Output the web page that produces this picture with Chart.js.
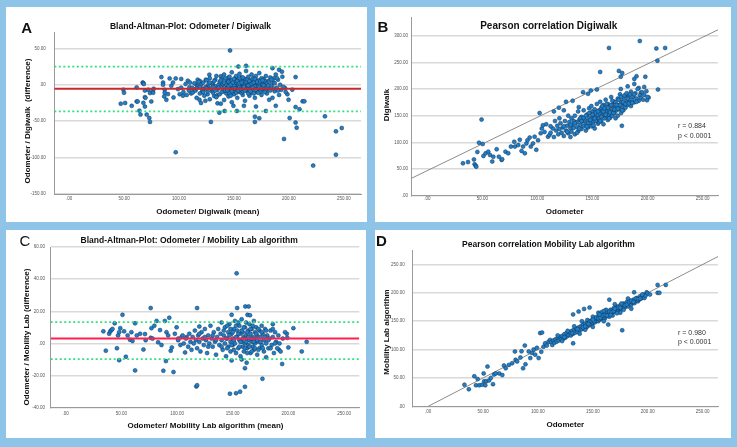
<!DOCTYPE html>
<html>
<head>
<meta charset="utf-8">
<script src="https://cdn.jsdelivr.net/npm/chart.js@4.4.1/dist/chart.umd.min.js"></script>
<style>
  html, body { margin: 0; padding: 0; }
  body { width: 737px; height: 447px; background: #8ec4e8; position: relative; overflow: hidden; }
  .panel { position: absolute; background: #fff; }
  .panel canvas { position: absolute; left: 0; top: 0; }
</style>
</head>
<body>
<div class="panel" style="left:6px;top:7px;width:361px;height:215px"><canvas id="chartA" width="361" height="215"></canvas></div>
<div class="panel" style="left:375px;top:7px;width:356px;height:215px"><canvas id="chartB" width="356" height="215"></canvas></div>
<div class="panel" style="left:6px;top:230px;width:360px;height:208px"><canvas id="chartC" width="360" height="208"></canvas></div>
<div class="panel" style="left:375px;top:230px;width:356px;height:208px"><canvas id="chartD" width="356" height="208"></canvas></div>

<script>
// ---- data ----
const xTicks = [0, 50, 100, 150, 200, 250];
const yTicksA = [-150, -100, -50, 0, 50];
const yTicksB = [0, 50, 100, 150, 200, 250, 300];
const yTicksC = [-40, -20, 0, 20, 40, 60];
const yTicksD = [0, 50, 100, 150, 200, 250];

// A: Bland-Altman Odometer / Digiwalk  [mean, difference]
const digiwalkBA = [
  [47,-26],[49.4,-6.8],[50,-11],[51,-25],[57,-29],[61.5,-3.7],[61.5,-22.9],[62.4,-23],[64,-35.6],[65,-41],[67,3],[67.5,2.3],[68,1],[67.6,-24.8],
  [69,-8],[69,-17],[69,-30],[69.5,-18],[70.6,-41],[72,-6.8],[73,-45.7],[73.6,-51],[73.6,-11.4],[74.8,-23],[76,-9],[76.5,-11],[77,-5.5],
  [84,10.5],[85.5,3],[85.5,0],[87,-7],[87,-11],[86.5,-16],[88.5,-20.6],[90,-12.8],[91.5,8.7],[93,-1.4],[94.5,3],[95,-17.4],[97,-92.7],
  [97,8.7],[99,-6],[100.6,-13],[102,8],[102,-4],[103.6,-15],[104,-10],[106,1],[107,-14],[108,5.6],[109,-8],[109.5,-3.5],[110,3],[111,-12],
  [112.5,-10.5],[113,-6],[115.5,1],[116,-18],[117,7],[118.6,-20.6],[119,5],[120,-25],[121,-10],[122,-6.8],[124,-22],[124.4,7],[126,-13],
  [126,-2],[127.6,13.8],[129,-51],[130,-9],[130.6,1],[132,-15.6],[133,7],[135,-25.5],[135,-14],[136.7,-38.3],[138,11.6],[138,-26],[139,-1],
  [141.5,-36],[146.4,47],[149.5,-29],[152.6,-36],[154,25],[159,-29],[161,26],[169,-43.8],[169,-51],[170,-30],[173,-46],[179,-36],
  [182,-20.6],[185,22.8],[186.4,9],[188,-29],[191,20.5],[193.6,18],[195.5,-74.4],[196.4,-4.6],[198.6,-13],[199.6,-20.6],[200.6,-45.7],
  [203,-6.8],[206,10.5],[206,-30.6],[206,-52],[207,-59],[209.6,-33.5],[212.4,-22.8],[214,-22.8],[222,-111],[232.7,-43.4],[242.7,-64],
  [242.7,-96],[248,-59.4],
  [112,-4],[114,2],[115,-8],[117,-2],[118,4],[119,-12],[120,0],[121,-6],[122,3],[123,-15],[124,-3],[125,6],[126,-9],[127,1],[128,-20],
  [128,9],[129,-5],[130,2],[131,-11],[132,5],[133,-2],[134,-17],[134,12],[135,-7],[136,0],[137,4],[137,-13],[138,-3],[139,8],[140,-9],
  [140,1],[141,-21],[141,14],[142,-5],[143,3],[143,-12],[144,7],[144,-1],[145,-16],[145,10],[146,-6],[146,2],[147,-10],[147,5],[148,-3],
  [148,-24],[148,17],[149,0],[149,-8],[150,4],[150,-13],[151,9],[151,-2],[152,-6],[152,12],[153,1],[153,-18],[154,-4],[154,6],[155,-10],
  [155,15],[156,-1],[156,3],[157,-7],[157,10],[158,-14],[158,0],[159,5],[159,-5],[160,-22],[160,8],[161,-2],[161,19],[162,2],[162,-9],
  [163,-5],[163,11],[164,0],[164,-15],[165,6],[165,-3],[166,-11],[166,14],[167,2],[167,-7],[168,-1],[168,9],[169,-18],[169,4],[170,-4],
  [170,12],[171,0],[171,-10],[172,6],[173,-6],[173,16],[174,-2],[175,3],[175,-14],[176,-8],[177,8],[178,-3],[179,1],[180,-12],[181,5],
  [182,-6],[183,10],[184,-1],[185,-18],[186,3],[187,-9],[188,14],[189,-4],[190,7],[191,-14],[192,0],[193,-7],[194,11],[195,-3],[197,-10],
  [142,-8],[143,0],[144,-4],[145,4],[146,-12],[147,-1],[148,6],[149,-5],[150,-1],[151,-9],[152,3],[153,-7],[154,0],[155,-3],[156,7],
  [157,-11],[158,4],[159,-1],[160,1],[161,-6],[162,-1],[163,4],[164,-7],[165,1],[166,-4],[167,8],[168,-12],[169,-2],[170,5],[171,-7],
  [172,-2],[173,2],[174,-9],[175,9],[176,0],[177,-5],[178,5],[179,-8],[180,2],[158,-9],[151,6],[147,-15],[163,-12],[155,9],
  [136,-4],[138,6],[139,-10],[141,3],[142,9],[144,-7],[145,-2],[146,11],[147,0],[148,-9],[149,3],[150,8],[151,-5],[152,-11],[153,5],
  [154,-8],[155,2],[156,-6],[157,3],[158,10],[159,-3],[160,-8],[161,4],[162,7],[163,-1],[164,5],[165,-9],[166,1],[167,-4],[168,3],
  [169,8],[170,-7],[171,4],[172,-11],[173,-3],[174,5],[175,-5],[176,6],[177,-1],[178,-10],[179,12],[180,-4],[181,-1],[182,4],[183,-8],
  [184,7],[186,-5],[187,2],[189,9],[190,-8],[131,-3],[133,-8],[128,3],[125,-5],[122,-10],[119,-3],[116,-5]
];
const meanDiffA = -5.5;
const loaA = [25, -36.5];

// B: Pearson correlation Digiwalk  [odometer, digiwalk]
const digiwalkCorr = [
  [32.4,60.7],[37,63],[42.4,68],[43,59],[44,56],[44.5,54.5],[45.5,82],[47,99.4],[49.3,142.7],[50.3,96.9],[51,74.5],[53,79.5],[55.4,82.6],
  [57,76.4],[59,64],[60,73],[63,87],[65,73],[67.5,67],[68,68.5],[71,82.6],[73.5,79.5],[76,92],[79,101],[79.6,92],[82.6,95],[84,105],
  [85.6,84],[87,92],[88.6,79.5],[90,98],[91,104],[93,109],[94,92],[96,98],[97.5,110.6],[99,86],[100.6,104],[102,155],[103,117],[104,126],
  [105,132],[106.5,119.5],[108,134],[109.6,110.6],[111,113.7],
  [157,232],[165,277],[193,290],[208,276],[216,277],[209,253],[209.5,199],[174,234],[177,230],[175.7,223],[188,219],[190,224],[198,223],
  [197,204],[199,196],[201,184],[199.5,179],[176.7,131],[141.5,194],[148.5,197],[146,191],[154,199],[175.7,200],[188,209.5],[192,202],
  [194,193],[182,205],[126,176],[132,178],[137.6,166],[115,158],[119.5,165],
  [112,118],[114,126],[115,110],[117,122],[118,131],[119,115],[120,125],[121,136],[122,118],[123,128],[124,112],[125,140],[126,122],
  [127,131],[128,117],[129,138],[130,126],[131,145],[131,120],[132,133],[133,127],[134,115],[134,150],[135,137],[136,129],[137,121],
  [137,158],[138,142],[139,133],[140,125],[140,148],[141,139],[142,130],[142,160],[143,143],[144,135],[144,122],[145,152],[146,140],
  [146,128],[147,164],[147,146],[148,136],[148,155],[149,130],[149,168],[150,145],[150,158],[151,139],[151,150],[152,126],[152,162],
  [153,147],[153,156],[154,141],[154,172],[155,151],[155,135],[156,160],[156,145],[157,154],[157,176],[158,140],[158,165],[159,150],
  [159,158],[160,134],[160,170],[161,155],[161,145],[162,163],[162,180],[163,150],[163,158],[164,142],[164,172],[165,160],[165,152],
  [166,167],[166,146],[167,185],[167,158],[168,150],[168,170],[169,163],[170,155],[170,176],[171,145],[171,166],[172,160],[173,182],
  [173,150],[174,170],[175,162],[175,190],[176,155],[176,176],[177,168],[178,183],[178,160],[179,173],[180,165],[180,188],[181,178],
  [182,170],[183,185],[184,176],[185,195],[185,168],[186,180],[187,186],[188,175],[189,192],[190,182],[191,200],[192,178],[193,188],
  [194,183],[195,194],[196,180],[197,189],[200,185],
  [112,130],[116,140],[120,145],[124,160],[128,150],[130,110],[133,140],[136,118],[139,145],
  [140,140],[142,146],[144,150],[146,136],[148,142],[150,152],[151,132],[153,140],[155,158],[156,138],[158,148],[159,168],[160,158],
  [161,164],[162,152],[163,172],[164,165],[165,145],[166,156],[167,170],[168,178],[169,155],[170,162],[171,175],[172,170],[173,163],
  [174,180],[175,170],[176,185],[177,160],[178,175],[179,188],[180,172],[181,192],[182,182],[183,173],[184,190],[186,174],[188,190],
  [190,176],[145,130],[147,155],[152,145],[157,140],[136,138],[138,126],[134,136],[130,133],[127,120],[124,130]
];
const refLineB = { intercept: 47, slope: 1.0 };

// C: Bland-Altman Odometer / Mobility Lab  [mean, difference]
const mobilityBA = [
  [33.8,7.5],[36,-4.5],[39,6],[40,7.5],[41,8.3],[42,9],[44,12.5],[46,-3],[47,5],[48,-10.4],[48,7],[49,9.5],[51,17.8],[52.4,7.5],[54,-8.3],
  [55.6,5],[57.7,2.3],[59,7],[60,1.5],[62.3,12.5],[62.3,-16.8],[63.8,5],[66.8,6],[69.8,-3.8],[71.2,5.8],[71.8,2],[76.3,22],[76.3,3.5],
  [77,9.5],[78,3],[79.6,11],[81.6,14],[83,0.7],[84.7,8.3],[86,-1],[87.7,-17],[89,14],[90,-11],[90.5,7],[92,5],[93,16],[94.3,-4.6],
  [95.3,-2.5],[96.8,-17.8],[98,6],[99.6,10],[101,3],[104,4],[107.2,-5.6],[108.6,4],
  [118,22],[117.3,-26.8],[118,-26],[120,10.5],[149,17.8],[154,22],[153.5,43.6],[161.3,23],[164.3,23],[163.3,17.8],[165.5,17.5],
  [147.5,-31.3],[153,-31],[156.6,-30],[161,-27],[161,-15.4],[162.5,-12],[158,-10],[149,-10.6],[176.7,-22],[180,-8.6],[194.4,-12.8],
  [204.5,9.5],[200,-2.5],[212,-5],[216.4,1],[186,12],[191.4,-3.8],[198.6,6],[199,3.5],
  [101,2],[103,-1],[105,5],[106,0],[108,3],[110,-2],[111,6],[112,1],[113,-4],[114,4],[115,0],[116,8],[117,2],[118,-3],[119,5],[120,1],
  [121,-5],[122,7],[123,3],[124,-1],[125,9],[126,2],[127,-6],[128,5],[129,0],[130,11],[131,3],[132,-2],[133,7],[134,1],[135,-7],[136,4],
  [137,9],[138,-1],[139,6],[140,2],[140,13],[141,-4],[142,5],[143,0],[143,10],[144,-8],[145,3],[146,7],[146,-2],[147,12],[148,1],
  [148,-5],[149,6],[150,3],[150,-1],[151,9],[152,0],[152,14],[153,-6],[154,4],[154,8],[155,-3],[156,2],[156,11],[157,6],[157,-8],
  [158,1],[158,15],[159,-2],[159,7],[160,4],[160,-5],[161,10],[161,0],[162,5],[162,13],[163,-3],[163,3],[164,8],[164,-1],[165,2],
  [165,12],[166,-6],[166,6],[167,1],[167,9],[168,-2],[168,4],[169,14],[169,-4],[170,7],[170,0],[171,3],[171,10],[172,-7],[172,5],
  [173,1],[174,8],[174,-3],[175,4],[176,-1],[176,11],[177,6],[178,2],[178,-5],[179,9],[180,0],[181,5],[182,-3],[183,3],[184,8],
  [185,-1],[186,4],[187,-6],[188,7],[189,1],[190,-3],[191,5],[192,0],[193,-5],[195,3],[197,7],
  [140,-2],[142,8],[144,3],[145,-3],[147,5],[148,9],[149,-1],[150,7],[151,2],[153,4],[153,11],[155,6],[156,-2],[157,1],[158,8],
  [159,3],[160,10],[161,-3],[162,1],[163,7],[164,4],[165,-2],[166,9],[167,3],[168,11],[169,1],[170,-3],[171,6],[172,2],[173,-4],
  [173,9],[175,1],[176,7],[177,-3],[179,4],[180,8],[182,2],[184,-3],[186,9],[188,0],[145,11],[151,-4],[155,13],[163,-6],[167,-5],
  [135,2],[132,5],[128,-2],[125,4],[120,6]
];
const meanDiffC = 3.1;
const loaC = [13.3, -9.8];

// D: Pearson correlation Mobility Lab  [odometer, mobility lab]
const mobilityCorr = [
  [33,38],[37,30],[42,53],[43.5,37],[45,48],[46.5,37],[49,38],[50.5,58],[51,44],[52,37],[53,44],[54,70],[55.4,45.6],[57,50],[59,39],
  [60,56],[61.6,58],[64.7,58],[67.5,55],[69,72],[70.6,67],[73.5,73],[76.5,76],[79,96.6],[79.6,82],[81,79],[84,86],[85,97],[86.4,67],
  [88,107],[88.6,74],[91.6,96.6],[93,85],[94.6,94],[96,100],[97.5,91],[99,103],[100.6,85],[102,129],[103.7,130],[103,96],[105,105],
  [106.5,111],[108,107],[109.6,114],[111,117],
  [132,162],[137,167],[142,171.6],[147,174],[132,111],[165,188],[176.7,134],[164,144],[209,214],[216.4,214],[209,200],[210.6,200],
  [187.6,201],[199,201],
  [112,113],[113,108],[114,116],[115,112],[116,118],[117,114],[118,120],[119,116],[120,122],[121,118],[122,124],[123,119],[124,127],
  [125,121],[126,129],[127,124],[128,126],[129,131],[130,125],[131,133],[132,128],[133,135],[134,130],[135,137],[136,131],[137,139],
  [138,134],[139,141],[140,136],[141,144],[142,138],[143,146],[144,139],[145,141],[146,149],[147,143],[148,151],[149,144],[150,147],
  [151,155],[152,148],[153,151],[154,158],[155,150],[156,153],[157,160],[158,154],[159,157],[160,163],[161,155],[162,159],[163,166],
  [164,160],[165,163],[166,170],[167,162],[168,166],[169,173],[170,167],[171,170],[172,176],[173,168],[174,172],[175,178],[176,171],
  [177,175],[178,181],[179,174],[180,178],[181,184],[182,176],[183,181],[184,186],[185,179],[186,183],[187,188],[188,182],[189,186],
  [190,191],[191,185],[192,188],[193,194],[194,190],[195,193],[196,197],[197,191],[198,195],[200,199],[202,197],
  [140,150],[145,152],[150,158],[155,165],[160,150],[165,158],[170,180],[175,165],[150,140],[143,135],[158,166],[162,170],[168,160],
  [172,164],[178,170],[182,190],[185,172],[138,128],[133,141],[127,133],[122,115],[118,125],
  [141,139],[143,141],[145,146],[147,149],[149,150],[151,150],[153,156],[155,155],[157,156],[159,160],[161,161],[163,160],[165,167],
  [167,166],[169,168],[171,173],[173,174],[175,174],[177,179],[179,178],[181,180],[183,184],[185,186],[187,184],[189,190],[191,189],
  [193,190],[195,197],[160,168],[170,172],[150,153],[146,145],[156,162],[176,181],[166,161],[136,136],[131,129],[124,122]
];
const refLineD = { intercept: 0, slope: 1.0 };

// ---- styling ----
const FONT = '"Liberation Sans", Arial, Helvetica, sans-serif';
const DOT_FILL = '#1f7fca';
const DOT_EDGE = '#173550';
const GREEN = '#2fe07e';
const AXIS = '#9a9a9a';
const GRID = '#d9d9d9';

// draws panel letters, titles, axis titles and stats at fixed spots
const panelText = {
  id: 'panelText',
  afterDraw(chart, args, opts) {
    const ctx = chart.ctx;
    (opts.items || []).forEach(it => {
      ctx.save();
      ctx.font = it.font;
      ctx.fillStyle = it.color || '#111';
      ctx.textAlign = it.align || 'center';
      ctx.textBaseline = 'middle';
      ctx.translate(it.x, it.y);
      if (it.rotate) ctx.rotate(it.rotate);
      ctx.fillText(it.text, 0, 0);
      ctx.restore();
    });
  }
};

function fmt(v) {
  return v === 0 ? '.00' : v.toFixed(2);
}

function dots(points, order) {
  return {
    data: points.map(p => ({ x: p[0], y: p[1] })),
    showLine: false,
    pointRadius: 2,
    pointBackgroundColor: DOT_FILL,
    pointBorderColor: DOT_EDGE,
    pointBorderWidth: 0.5,
    order: order
  };
}

function hline(x0, x1, y, color, width, dash, order) {
  return {
    data: [{ x: x0, y: y }, { x: x1, y: y }],
    showLine: true,
    pointRadius: 0,
    borderColor: color,
    borderWidth: width,
    borderDash: dash || [],
    fill: false,
    order: order
  };
}

function fitLine(x0, x1, line, order) {
  return {
    data: [{ x: x0, y: line.intercept + line.slope * x0 }, { x: x1, y: line.intercept + line.slope * x1 }],
    showLine: true,
    pointRadius: 0,
    borderColor: '#8c8c8c',
    borderWidth: 1,
    fill: false,
    order: order
  };
}

function buildPanel(id, p) {
  const ctx = document.getElementById(id).getContext('2d');
  return new Chart(ctx, {
    type: 'scatter',
    data: { datasets: p.datasets },
    plugins: [panelText],
    options: {
      responsive: false,
      animation: false,
      devicePixelRatio: 1,
      layout: { padding: { left: 0, top: p.top, right: p.right, bottom: 0 } },
      plugins: {
        legend: { display: false },
        tooltip: { enabled: false },
        panelText: { items: p.texts }
      },
      scales: {
        x: {
          type: 'linear',
          min: p.xRange[0],
          max: p.xRange[1],
          afterBuildTicks: s => { s.ticks = xTicks.map(v => ({ value: v })); },
          afterFit: s => { s.height = p.xHeight; },
          grid: { display: false, drawTicks: false },
          border: { display: true, color: AXIS, width: 1 },
          ticks: { font: { size: 4.5, family: FONT }, color: '#555', padding: p.xPad, autoSkip: false, maxRotation: 0, callback: fmt }
        },
        y: {
          type: 'linear',
          min: p.yRange[0],
          max: p.yRange[1],
          afterBuildTicks: s => { s.ticks = p.yTicks.map(v => ({ value: v })); },
          afterFit: s => { s.width = p.yWidth; },
          grid: { display: true, color: GRID, lineWidth: 1.5, drawTicks: false },
          border: { display: true, color: AXIS, width: 1 },
          ticks: { font: { size: 4.5, family: FONT }, color: '#555', padding: p.yPad, autoSkip: false, callback: fmt }
        }
      }
    }
  });
}

const bold = s => 'bold ' + s + 'px ' + FONT;
const UP = -Math.PI / 2;

// A
const xRangeA = [-13.4, 265.5];
buildPanel('chartA', {
  xRange: xRangeA, yRange: [-150, 72], yTicks: yTicksA,
  top: 25.3, right: 6, yWidth: 48.3, xHeight: 28, xPad: 2.3, yPad: 8.5,
  datasets: [
    dots(digiwalkBA, 1),
    hline(xRangeA[0], xRangeA[1], meanDiffA, '#c9282d', 2, null, 0),
    hline(xRangeA[0], xRangeA[1], loaA[0], GREEN, 1.8, [2, 2.5], 0),
    hline(xRangeA[0], xRangeA[1], loaA[1], GREEN, 1.8, [2, 2.5], 0)
  ],
  texts: [
    { text: 'A', x: 20.7, y: 22, font: bold(15) },
    { text: 'Bland-Altman-Plot: Odometer / Digiwalk', x: 184.5, y: 20, font: bold(8.5) },
    { text: 'Odometer / Digiwalk  (difference)', x: 21.3, y: 114, rotate: UP, font: bold(8) },
    { text: 'Odometer/ Digiwalk (mean)', x: 201.8, y: 205, font: bold(8) }
  ]
});

// B
const xRangeB = [-14.5, 264];
buildPanel('chartB', {
  xRange: xRangeB, yRange: [0, 335], yTicks: yTicksB,
  top: 10, right: 13, yWidth: 36.3, xHeight: 26.3, xPad: 0.8, yPad: 3.3,
  datasets: [
    dots(digiwalkCorr, 0),
    fitLine(xRangeB[0], xRangeB[1], refLineB, 1)
  ],
  texts: [
    { text: 'B', x: 8, y: 21.3, font: bold(15) },
    { text: 'Pearson correlation Digiwalk', x: 173.8, y: 19, font: bold(10) },
    { text: 'Digiwalk', x: 12, y: 98, rotate: UP, font: bold(8) },
    { text: 'Odometer', x: 189.7, y: 205, font: bold(8) },
    { text: 'r = 0.884', x: 303, y: 119, align: 'left', color: '#333', font: '7px ' + FONT },
    { text: 'p < 0.0001', x: 303, y: 128.7, align: 'left', color: '#333', font: '7px ' + FONT }
  ]
});

// C
const xRangeC = [-13.5, 263.7];
buildPanel('chartC', {
  xRange: xRangeC, yRange: [-40, 60], yTicks: yTicksC,
  top: 17, right: 6.7, yWidth: 44.7, xHeight: 30.3, xPad: 3, yPad: 5.7,
  datasets: [
    dots(mobilityBA, 1),
    hline(xRangeC[0], xRangeC[1], meanDiffC, '#ff1f4f', 2, null, 0),
    hline(xRangeC[0], xRangeC[1], loaC[0], GREEN, 1.8, [2, 2.5], 0),
    hline(xRangeC[0], xRangeC[1], loaC[1], GREEN, 1.8, [2, 2.5], 0)
  ],
  texts: [
    { text: 'C', x: 19, y: 12, font: '15px ' + FONT },
    { text: 'Bland-Altman-Plot: Odometer / Mobility Lab algorithm', x: 183.2, y: 11, font: bold(8.5) },
    { text: 'Odometer / Mobility Lab (difference)', x: 20.7, y: 107, rotate: UP, font: bold(8) },
    { text: 'Odometer/ Mobility Lab algorithm (mean)', x: 199.5, y: 196, font: bold(8) }
  ]
});

// D
const xRangeD = [-14.5, 264];
buildPanel('chartD', {
  xRange: xRangeD, yRange: [0, 275], yTicks: yTicksD,
  top: 20.3, right: 13, yWidth: 37.3, xHeight: 31.7, xPad: 2.7, yPad: 7.6,
  datasets: [
    dots(mobilityCorr, 0),
    fitLine(0, xRangeD[1], refLineD, 1)
  ],
  texts: [
    { text: 'D', x: 6.5, y: 12, font: bold(15) },
    { text: 'Pearson correlation Mobility Lab algorithm', x: 173.5, y: 14.7, font: bold(8.5) },
    { text: 'Mobility Lab algorithm', x: 11.3, y: 102, rotate: UP, font: bold(8) },
    { text: 'Odometer', x: 190.3, y: 194.7, font: bold(8) },
    { text: 'r = 0.980', x: 303, y: 102.7, align: 'left', color: '#333', font: '7px ' + FONT },
    { text: 'p < 0.0001', x: 303, y: 112, align: 'left', color: '#333', font: '7px ' + FONT }
  ]
});
</script>
</body>
</html>
